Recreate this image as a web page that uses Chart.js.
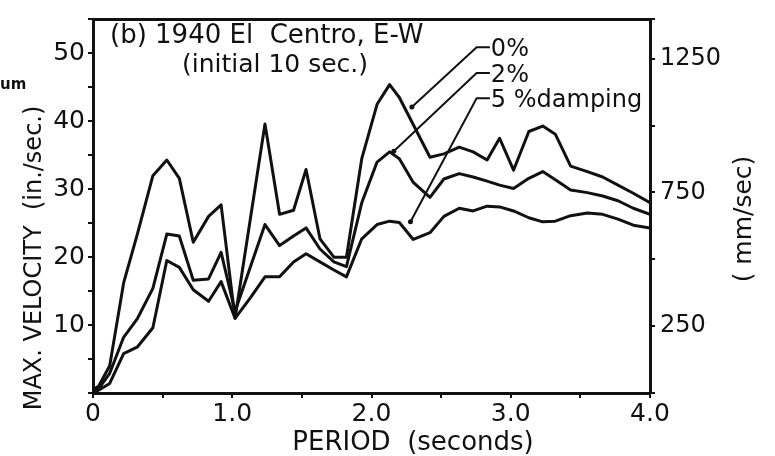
<!DOCTYPE html>
<html>
<head>
<meta charset="utf-8">
<script src="https://cdn.jsdelivr.net/npm/chart.js@4.4.1/dist/chart.umd.min.js"></script>
<style>
  html, body { margin: 0; padding: 0; background: #fff; }
  #wrap { width: 775px; height: 456px; }
</style>
</head>
<body>
<div id="wrap"><canvas id="chart" width="775" height="456"></canvas></div>
<script>
// Periodo (s) compartido por las tres curvas; null = la curva no tiene vértice ahí
const periods = [0, 0.04, 0.12, 0.22, 0.32, 0.43, 0.53, 0.62, 0.72, 0.83, 0.92, 1.02, 1.13, 1.235, 1.34,
  1.44, 1.53, 1.63, 1.73, 1.82, 1.93, 2.04, 2.13, 2.2, 2.3, 2.42, 2.52, 2.63, 2.73, 2.83, 2.92, 3.02,
  3.13, 3.23, 3.32, 3.43, 3.55, 3.66, 3.77, 3.88, 4.0];

// Velocidad máxima (in./sec.) para 0%, 2% y 5% de amortiguamiento
const vel0 = [0.5, 1, 4, 16.2, 23.5, 32, 34.3, 31.6, 22.2, 26, 27.7, 11, null, 39.6, 26.3,
  26.9, 32.9, 22.7, 20, 20, 34.5, 42.5, 45.4, 43.5, null, 34.7, 35.2, 36.2, 35.5, 34.3, 37.5, 32.8,
  38.5, 39.3, 38.1, 33.4, 32.6, 31.8, 30.6, 29.4, 28];
const vel2 = [0.3, 0.6, 2.9, 8.2, 11, 15.4, 23.4, 23.1, 16.6, 16.8, 20.7, 12, null, 24.8, 21.7,
  23.1, 24.3, 21.2, 19.3, 18.6, 28, 34, 35.5, 34.5, 31, 28.8, 31.5, 32.3, 31.8, 31.2, 30.6, 30.1,
  31.6, 32.6, 31.4, 29.9, 29.5, 29, 28.3, 27.2, 26.3];
const vel5 = [0.2, 0.4, 1.4, 5.8, 6.8, 9.6, 19.5, 18.5, 15.2, 13.5, 16.4, 11, 14, 17.1, 17.1,
  19.3, 20.5, 19.3, 18.1, 17.1, 22.7, 24.8, 25.3, 25.1, 22.6, 23.6, 26, 27.2, 26.8, 27.5, 27.4, 26.8,
  25.8, 25.2, 25.3, 26.1, 26.5, 26.3, 25.6, 24.7, 24.3];

// Líneas guía de las etiquetas [periodo, velocidad]
const leader0 = [[2.85, 50.9], [2.755, 50.9], [2.29, 42.1]];
const leader2 = [[2.85, 47.1], [2.755, 47.1], [2.16, 35.6]];
const leader5 = [[2.85, 43.4], [2.755, 43.4], [2.28, 25.2]];
const leaderText = ['0%', '2%', '5 %damping'];

const xTickLabels = ['0', '1.0', '2.0', '3.0', '4.0'];
const mmTickLabels = [250, 750, 1250];

const INK = '#111';
const FONT = '"DejaVu Sans", sans-serif';

function pts(vals) {
  return periods.map((p, i) => ({ x: p, y: vals[i] })).filter(d => d.y !== null);
}

function curve(vals) {
  return {
    data: pts(vals), borderColor: INK, borderWidth: 3, pointRadius: 0,
    tension: 0, borderJoinStyle: 'round', spanGaps: true
  };
}

function leader(l) {
  return {
    data: l.map(p => ({ x: p[0], y: p[1] })), borderColor: INK, borderWidth: 2,
    pointRadius: [0, 0, 2.5], pointBackgroundColor: INK, pointBorderWidth: 0, tension: 0
  };
}

// Textos sueltos: título, ejes, etiquetas de curvas
const textPlugin = {
  id: 'textos',
  afterDraw(chart) {
    const ctx = chart.ctx;
    const sx = chart.scales.x, sy = chart.scales.y;
    ctx.save();
    ctx.fillStyle = INK;
    ctx.textBaseline = 'alphabetic';
    ctx.textAlign = 'left';
    ctx.font = '26px ' + FONT;
    ctx.fillText('(b) 1940 El  Centro, E-W', 110, 43);
    ctx.font = '25px ' + FONT;
    ctx.fillText('(initial 10 sec.)', 182, 72);

    ctx.font = '24px ' + FONT;
    [leader0, leader2, leader5].forEach((l, i) => {
      ctx.fillText(leaderText[i], sx.getPixelForValue(l[0][0]) + 1, sy.getPixelForValue(l[0][1]) + 9);
    });

    ctx.textAlign = 'center';
    ctx.font = '26px ' + FONT;
    ctx.fillText('PERIOD  (seconds)', 413, 450);

    ctx.save();
    ctx.translate(41, 258);
    ctx.rotate(-Math.PI / 2);
    ctx.font = '24px ' + FONT;
    ctx.fillText('MAX. VELOCITY  (in./sec.)', 0, 0);
    ctx.restore();

    ctx.save();
    ctx.translate(751, 219);
    ctx.rotate(-Math.PI / 2);
    ctx.font = '25px ' + FONT;
    ctx.fillText('( mm/sec)', 0, 0);
    ctx.restore();

    ctx.textAlign = 'left';
    ctx.font = 'bold 15px ' + FONT;
    ctx.fillText('um', 0, 89);
    ctx.restore();
  }
};

const axisBorder = { display: true, color: INK, width: 3 };
const tickGrid = { drawOnChartArea: false, color: INK, lineWidth: 2, tickLength: 5 };

new Chart(document.getElementById('chart'), {
  type: 'line',
  data: {
    datasets: [curve(vel0), curve(vel2), curve(vel5), leader(leader0), leader(leader2), leader(leader5)]
  },
  options: {
    responsive: false,
    animation: false,
    devicePixelRatio: 1,
    layout: { padding: 0 },
    plugins: { legend: { display: false }, tooltip: { enabled: false } },
    scales: {
      x: {
        type: 'linear', min: 0, max: 4, position: 'bottom',
        afterFit: s => { s.height = 63; },
        border: axisBorder, grid: tickGrid,
        ticks: {
          stepSize: 0.5, padding: 1, color: INK, autoSkip: false, maxRotation: 0,
          font: { family: FONT, size: 25 },
          callback: v => (v % 1 === 0 ? xTickLabels[v] : '')
        }
      },
      xTop: {
        type: 'linear', min: 0, max: 4, position: 'top',
        afterFit: s => { s.height = 13; },
        border: axisBorder, grid: { display: false }, ticks: { display: false }
      },
      y: {
        min: 0, max: 55, position: 'left',
        afterFit: s => { s.width = 93; },
        border: axisBorder, grid: tickGrid,
        ticks: {
          stepSize: 5, padding: 3, color: INK, autoSkip: false,
          font: { family: FONT, size: 25 },
          callback: v => (v > 0 && v % 10 === 0 ? String(v) : '')
        }
      },
      yMm: {
        min: 0, max: 55 * 25.4, position: 'right',
        afterFit: s => { s.width = 125; },
        border: axisBorder, grid: tickGrid,
        ticks: {
          stepSize: 250, padding: 5, color: INK, autoSkip: false,
          font: { family: FONT, size: 24 },
          callback: v => (mmTickLabels.includes(v) ? String(v) : '')
        }
      }
    }
  },
  plugins: [textPlugin]
});
</script>
</body>
</html>
